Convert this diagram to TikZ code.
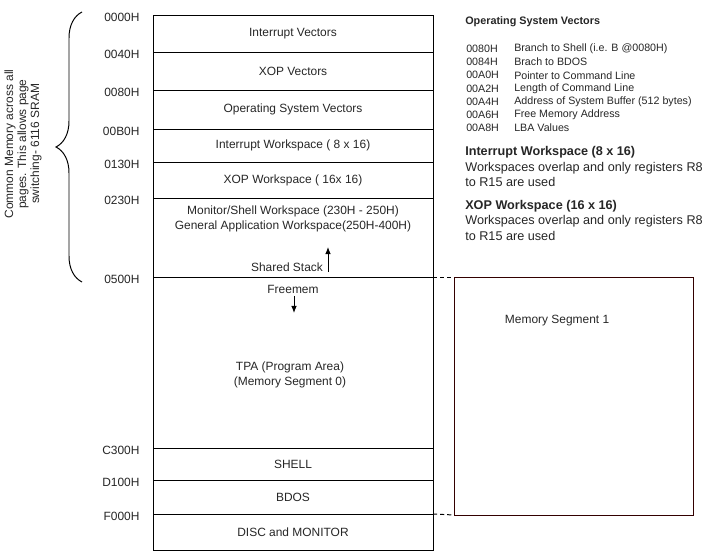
\documentclass[tikz,border=0pt]{standalone}
\usepackage{fontspec}
\setmainfont{Liberation Sans}
\usetikzlibrary{positioning,arrows.meta,decorations.pathreplacing}
\definecolor{ink}{HTML}{262626}
\definecolor{segline}{HTML}{330000}
\tikzset{
    seg/.style={rectangle, draw=black, line width=0.7pt, outer sep=0pt, inner sep=0pt, minimum width=7cm, align=center, font=\fontsize{8.5}{10.7}\selectfont, text=ink},
    addr/.style={anchor=east, inner sep=0pt, font=\fontsize{8.5}{10}\selectfont, text=ink},
    lbl/.style={inner sep=0pt, align=center, font=\fontsize{8.5}{10.7}\selectfont, text=ink},
    link/.style={densely dashed, line width=0.7pt},
    arrow/.style={-{Latex[length=5pt,width=4pt]}, line width=0.7pt},
    tabtxt/.style={anchor=west, inner sep=0pt, font=\fontsize{7.6}{9}\selectfont, text=ink},
    note/.style={anchor=north west, inner sep=0pt, align=left, font=\fontsize{9}{11}\selectfont, text=ink}
}

\begin{document}
\begin{tikzpicture}[node distance=0pt]
\useasboundingbox (0,0) rectangle (17.6,-13.775);

% memory map, top to bottom
\node[seg, minimum height=0.925cm, anchor=north west] (iv) at (3.825,-0.375) {Interrupt Vectors};
\node[seg, minimum height=0.95cm, below=of iv] (xopv) {XOP Vectors};
\node[seg, minimum height=0.975cm, below=of xopv] (osv) {Operating System Vectors};
\node[seg, minimum height=0.825cm, below=of osv] (iws) {Interrupt Workspace ( 8 x 16)};
\node[seg, minimum height=0.9cm, below=of iws] (xws) {XOP Workspace ( 16x 16)};
\node[seg, minimum height=1.975cm, below=of xws] (mon) {};
\node[seg, minimum height=4.275cm, below=of mon] (tpa) {};
\node[seg, minimum height=0.8cm, below=of tpa] (shell) {SHELL};
\node[seg, minimum height=0.85cm, below=of shell] (bdos) {BDOS};
\node[seg, minimum height=0.9cm, below=of bdos] (disc) {DISC and MONITOR};

% addresses
\foreach \seg/\adr in {iv/0000H, xopv/0040H, osv/0080H, iws/00B0H, xws/0130H, mon/0230H, tpa/0500H, shell/C300H, bdos/D100H, disc/F000H}
    \node[addr] (adr-\seg) at ([xshift=-0.33cm, yshift=-0.07cm]\seg.north west) {\adr};

% workspace and program area texts
\node[lbl] (monws) at ([yshift=-0.5125cm]mon.north) {Monitor/Shell Workspace (230H - 250H)\\General Application Workspace(250H-400H)};
\node[lbl] (stack) at ([xshift=-0.15cm, yshift=0.25cm]mon.south) {Shared Stack};
\coordinate (stk0) at ([xshift=0.875cm, yshift=0.125cm]mon.south);
\coordinate (stk1) at ([xshift=0.875cm, yshift=0.75cm]mon.south);
\draw[arrow] (stk0) -- (stk1);

\node[lbl] (free) at ([yshift=-0.3cm]tpa.north) {Freemem};
\coordinate (fm0) at ([xshift=0.025cm, yshift=-0.475cm]tpa.north);
\coordinate (fm1) at ([xshift=0.025cm, yshift=-0.9cm]tpa.north);
\draw[arrow] (fm0) -- (fm1);
\node[lbl] (tpatxt) at ([xshift=-0.075cm, yshift=-0.3125cm]tpa.center) {TPA (Program Area)\\(Memory Segment 0)};

% second segment
\node[seg, draw=segline, minimum width=5.975cm, minimum height=5.95cm, right=0.525cm of tpa.north east, anchor=north west] (mem1) {};
\node[lbl] (mem1txt) at ([xshift=-0.41cm, yshift=-1.1cm]mem1.north) {Memory Segment 1};
\draw[link] (tpa.north east) -- (mem1.north west);
\draw[link] (disc.north east) -- (mem1.south west);

% common memory brace
\coordinate (cmbot) at (2.05,-7.05);
\coordinate (cmtop) at (2.05,-0.3);
\draw[line width=0.7pt, decorate, decoration={brace, amplitude=0.65cm}] (cmbot) -- (cmtop);
\node[lbl, rotate=90, font=\fontsize{8.5}{9.3}\selectfont] (common) at (0.575,-3.6) {Common Memory across all\\pages. This allows page\\switching- 6116 SRAM};

% notes
\node[anchor=west, inner sep=0pt, font=\bfseries\fontsize{7.7}{9}\selectfont, text=ink] (osvhead) at (11.625,-0.55) {Operating System Vectors};
\foreach \adr/\what [count=\i] in {0080H/Branch to Shell (i.e. B @0080H), 0084H/Brach to BDOS, 00A0H/Pointer to Command Line, 00A2H/Length of Command Line, 00A4H/Address of System Buffer (512 bytes), 00A6H/Free Memory Address, 00A8H/LBA Values} {
    \node[tabtxt] (va\i) at (11.65,{-1.225-0.329*(\i-1)}) {\adr};
    \node[tabtxt] (vd\i) at (12.85,{-1.225-0.329*(\i-1)}) {\what};
}
\node[note] (iwsnote) at (11.625,-3.655) {\textbf{Interrupt Workspace (8 x 16)}\\Workspaces overlap and only registers R8\\to R15 are used};
\node[note] (xwsnote) at (11.625,-5.0) {\textbf{XOP Workspace (16 x 16)}\\Workspaces overlap and only registers R8\\to R15 are used};

\end{tikzpicture}
\end{document}
